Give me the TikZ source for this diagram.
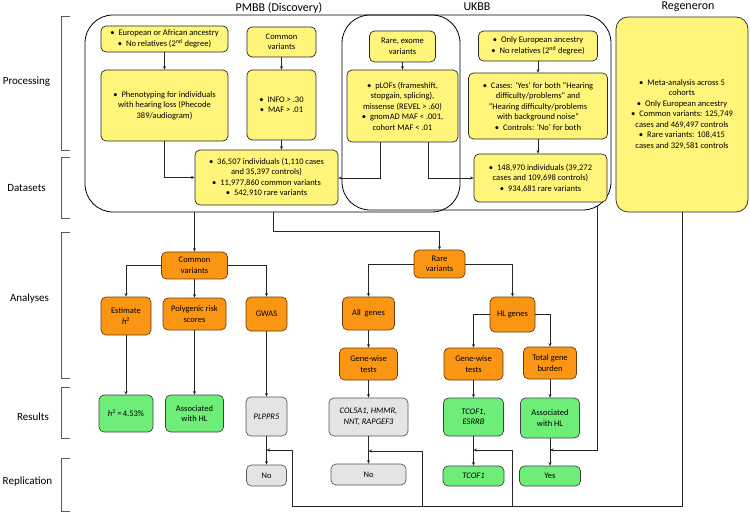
\documentclass[tikz,border=0pt]{standalone}
\usepackage{fontspec}
\setmainfont{Carlito}
\usetikzlibrary{arrows.meta,calc}
\definecolor{ylw}{RGB}{255,245,122}
\definecolor{org}{RGB}{250,150,20}
\definecolor{orgd}{RGB}{110,60,10}
\definecolor{grn}{RGB}{110,238,120}
\definecolor{gry}{RGB}{228,228,228}
\newcommand\bul{\textbullet\hspace{4pt}}
\begin{document}
\begin{tikzpicture}[x=1pt,y=-1pt,
  box/.style={draw=black!85, line width=0.7pt, rounded corners=5pt, inner sep=0pt, align=center, font=\fontsize{8.5}{10.5}\selectfont},
  ybox/.style={box, fill=ylw},
  obox/.style={box, fill=org, draw=orgd},
  gbox/.style={box, fill=grn, draw=black!75},
  grbox/.style={box, fill=gry, draw=black!65},
  wh/.style 2 args={minimum width=#1, minimum height=#2},
  arr/.style={draw=black!85, line width=0.8pt, -{Stealth[length=3.5pt,width=3pt]}},
  ln/.style={draw=black!85, line width=0.8pt},
  outer/.style={draw=black, line width=0.8pt, rounded corners=28pt, inner sep=0pt},
  lab/.style={font=\fontsize{11}{13}\selectfont},
  head/.style={font=\fontsize{12}{14}\selectfont},
  brk/.style={draw=black!65, line width=0.9pt}
]
\useasboundingbox (0,0) rectangle (750,513);

% side labels and brackets
\node[lab] (lP) at (26.5,82) {Processing};
\node[lab] (lD) at (26.5,188) {Datasets};
\node[lab] (lA) at (29.5,299) {Analyses};
\node[lab] (lR) at (33,417) {Results};
\node[lab] (lRe) at (27.5,482) {Replication};
\draw[brk] (70,16) -- (61,16) -- (61,150) -- (70,150);
\draw[brk] (70,157) -- (61,157) -- (61,218) -- (70,218);
\draw[brk] (70,232) -- (61,232) -- (61,378) -- (70,378);
\draw[brk] (70,387) -- (61,387) -- (61,438) -- (70,438);
\draw[brk] (70,458) -- (61,458) -- (61,511) -- (70,511);

% headings
\node[head] (hP) at (279,8) {PMBB (Discovery)};
\node[head] (hU) at (477,7) {UKBB};
\node[head] (hR) at (688,7) {Regeneron};

% outer groups
\node[outer, wh={375}{197}] (PMBB) at (272.5,113.5) {};
\node[outer, wh={269}{195}] (UKBB) at (476.5,112.5) {};

% PMBB processing
\node[ybox, wh={127}{26}] (A1) at (164.5,39) {\bul European or African ancestry\\\bul No relatives (2\textsuperscript{nd} degree)};
\node[ybox, wh={127}{71}] (A2) at (164.5,105.5) {\bul Phenotyping for individuals\\with hearing loss (Phecode\\389/audiogram)};
\node[ybox, wh={69}{30}] (B1) at (281.5,42) {Common\\variants};
\node[ybox, wh={69}{70}] (B2) at (281.5,105) {\bul INFO > .30\\\bul MAF > .01};
\node[ybox, wh={66}{31}] (C1) at (402.5,46.5) {Rare, exome\\variants};
\node[ybox, wh={111}{72}] (C2) at (402.5,106) {\bul pLOFs (frameshift,\\stopgain, splicing),\\missense (REVEL > .60)\\\bul gnomAD MAF < .001,\\cohort MAF < .01};
\node[ybox, wh={143}{55}] (D1) at (266.5,177.5) {\bul 36,507 individuals (1,110 cases\\and 35,397 controls)\\\bul 11,977,860 common variants\\\bul 542,910 rare variants};

% UKBB processing
\node[ybox, wh={119}{30}] (E1) at (538,46) {\bul Only European ancestry\\\bul No relatives (2\textsuperscript{nd} degree)};
\node[ybox, wh={139}{66}] (E2) at (538,106) {\bul Cases: ‘Yes’ for both “Hearing\\difficulty/problems” and\\“Hearing difficulty/problems\\with background noise”\\\bul Controls: ‘No’ for both};
\node[ybox, wh={133}{48}] (E3) at (540.5,178) {\bul 148,970 individuals (39,272\\cases and 109,698 controls)\\\bul 934,681 rare variants};

% Regeneron
\node[ybox, rounded corners=12pt, wh={132}{195}] (REG) at (682,114.5) {\bul Meta-analysis across 5\\cohorts\\\bul Only European ancestry\\\bul Common variants: 125,749\\cases and 469,497 controls\\\bul Rare variants: 108,415\\cases and 329,581 controls};

% processing connectors
\draw[arr] (A1.south) -- (A2.north);
\draw[arr] (B1.south) -- (B2.north);
\draw[arr] (B2.south) -- (B2.south |- D1.north);
\draw[arr] (A2.south) |- (D1.west);
\draw[arr] (C1.south) -- (C1.south |- C2.north);
\coordinate (c2l) at (380,178);
\coordinate (c2r) at (428,178);
\draw[arr] (C2.south -| c2l) -- (c2l) -- (c2l -| D1.east);
\draw[arr] (C2.south -| c2r) -- (c2r) -- (c2r -| E3.west);
\draw[arr] (E1.south) -- (E2.north);
\draw[arr] (E2.south) -- (E2.south |- E3.north);

% analyses
\node[obox, wh={66}{27}] (CV) at (194.5,265.5) {Common\\variants};
\node[obox, wh={50}{38}] (EST) at (126,316) {Estimate\\\textit{h}\textsuperscript{2}};
\node[obox, wh={63}{32}] (PRS) at (194.5,314) {Polygenic risk\\scores};
\node[obox, wh={41}{34}] (GWAS) at (266.5,314) {GWAS};
\node[obox, wh={51}{28}] (RV) at (439.5,264) {Rare\\variants};
\node[obox, wh={52}{33}] (ALL) at (368.5,313.5) {All~ genes};
\node[obox, wh={45}{35}] (HL) at (512.5,314.5) {HL genes};
\node[obox, wh={58}{32}] (GW1) at (368.5,364) {Gene-wise\\tests};
\node[obox, wh={59}{32}] (GW2) at (473.5,364) {Gene-wise\\tests};
\node[obox, wh={53}{32}] (TGB) at (550,363) {Total gene\\burden};

\draw[arr] (PMBB.south -| CV) -- (CV.north);
\coordinate (j1) at (273,231);
\draw[arr] (PMBB.south -| j1) -- (j1) -| (RV.north);
\draw[arr] (CV.west) -| (EST.north);
\draw[arr] (CV.south) -- (PRS.north);
\draw[arr] (CV.east) -| (GWAS.north);
\draw[arr] (RV.west) -| (ALL.north);
\draw[arr] (RV.east) -| (HL.north);
\draw[arr] (ALL.south) -- (GW1.north);
\draw[arr] (HL.west) -| (GW2.north);
\draw[arr] (HL.east) -| (TGB.north);

% results
\node[gbox, wh={54}{37}] (H2) at (126,413.5) {\textit{h}\textsuperscript{2}\,=\,4.53\%};
\node[gbox, wh={58}{37}] (ASC1) at (194.5,413.5) {Associated\\with HL};
\node[grbox, wh={41}{39}] (PLP) at (266.5,416.5) {\textit{PLPPR5}};
\node[grbox, wh={79}{38}] (COL) at (368.5,417) {\textit{COL5A1, HMMR,}\\\textit{NNT, RAPGEF3}};
\node[gbox, wh={60}{38}] (TCE) at (473.5,417) {\textit{TCOF1,}\\\textit{ESRRB}};
\node[gbox, wh={59}{40}] (ASC2) at (550,418) {Associated\\with HL};

\draw[arr] (EST.south) -- (H2.north);
\draw[arr] (PRS.south) -- (ASC1.north);
\draw[arr] (GWAS.south) -- (PLP.north);
\draw[arr] (GW1.south) -- (COL.north);
\draw[arr] (GW2.south) -- (TCE.north);
\draw[arr] (TGB.south) -- (ASC2.north);

% replication
\node[grbox, wh={40}{21}] (NO1) at (266.5,475.5) {No};
\node[grbox, wh={75}{21}] (NO2) at (368.5,474.5) {No};
\node[gbox, wh={61}{20}] (TC) at (473.5,476) {\textit{TCOF1}};
\node[gbox, wh={61}{20}] (YES) at (550,476) {Yes};

\draw[arr] (PLP.south) -- (NO1.north);
\draw[arr] (COL.south) -- (NO2.north);
\draw[arr] (TCE.south) -- (TC.north);
\draw[arr] (ASC2.south) -- (YES.north);

\coordinate (q1) at (292,506);
\coordinate (q1t) at (292,450);
\coordinate (q2) at (422,506);
\coordinate (q2t) at (422,451);
\coordinate (q3) at (512,506);
\coordinate (q3t) at (512,450);
\coordinate (q4s) at (597,206);
\coordinate (q4) at (597,450);
\draw[ln] (REG.south) |- (q1);
\draw[arr] (q1) -- (q1t) -- (q1t -| PLP);
\draw[arr] (q2) -- (q2t) -- (q2t -| COL);
\draw[arr] (q3) -- (q3t) -- (q3t -| TCE);
\draw[arr] (q4s) -- (q4) -- (q4 -| ASC2);
\end{tikzpicture}
\end{document}
